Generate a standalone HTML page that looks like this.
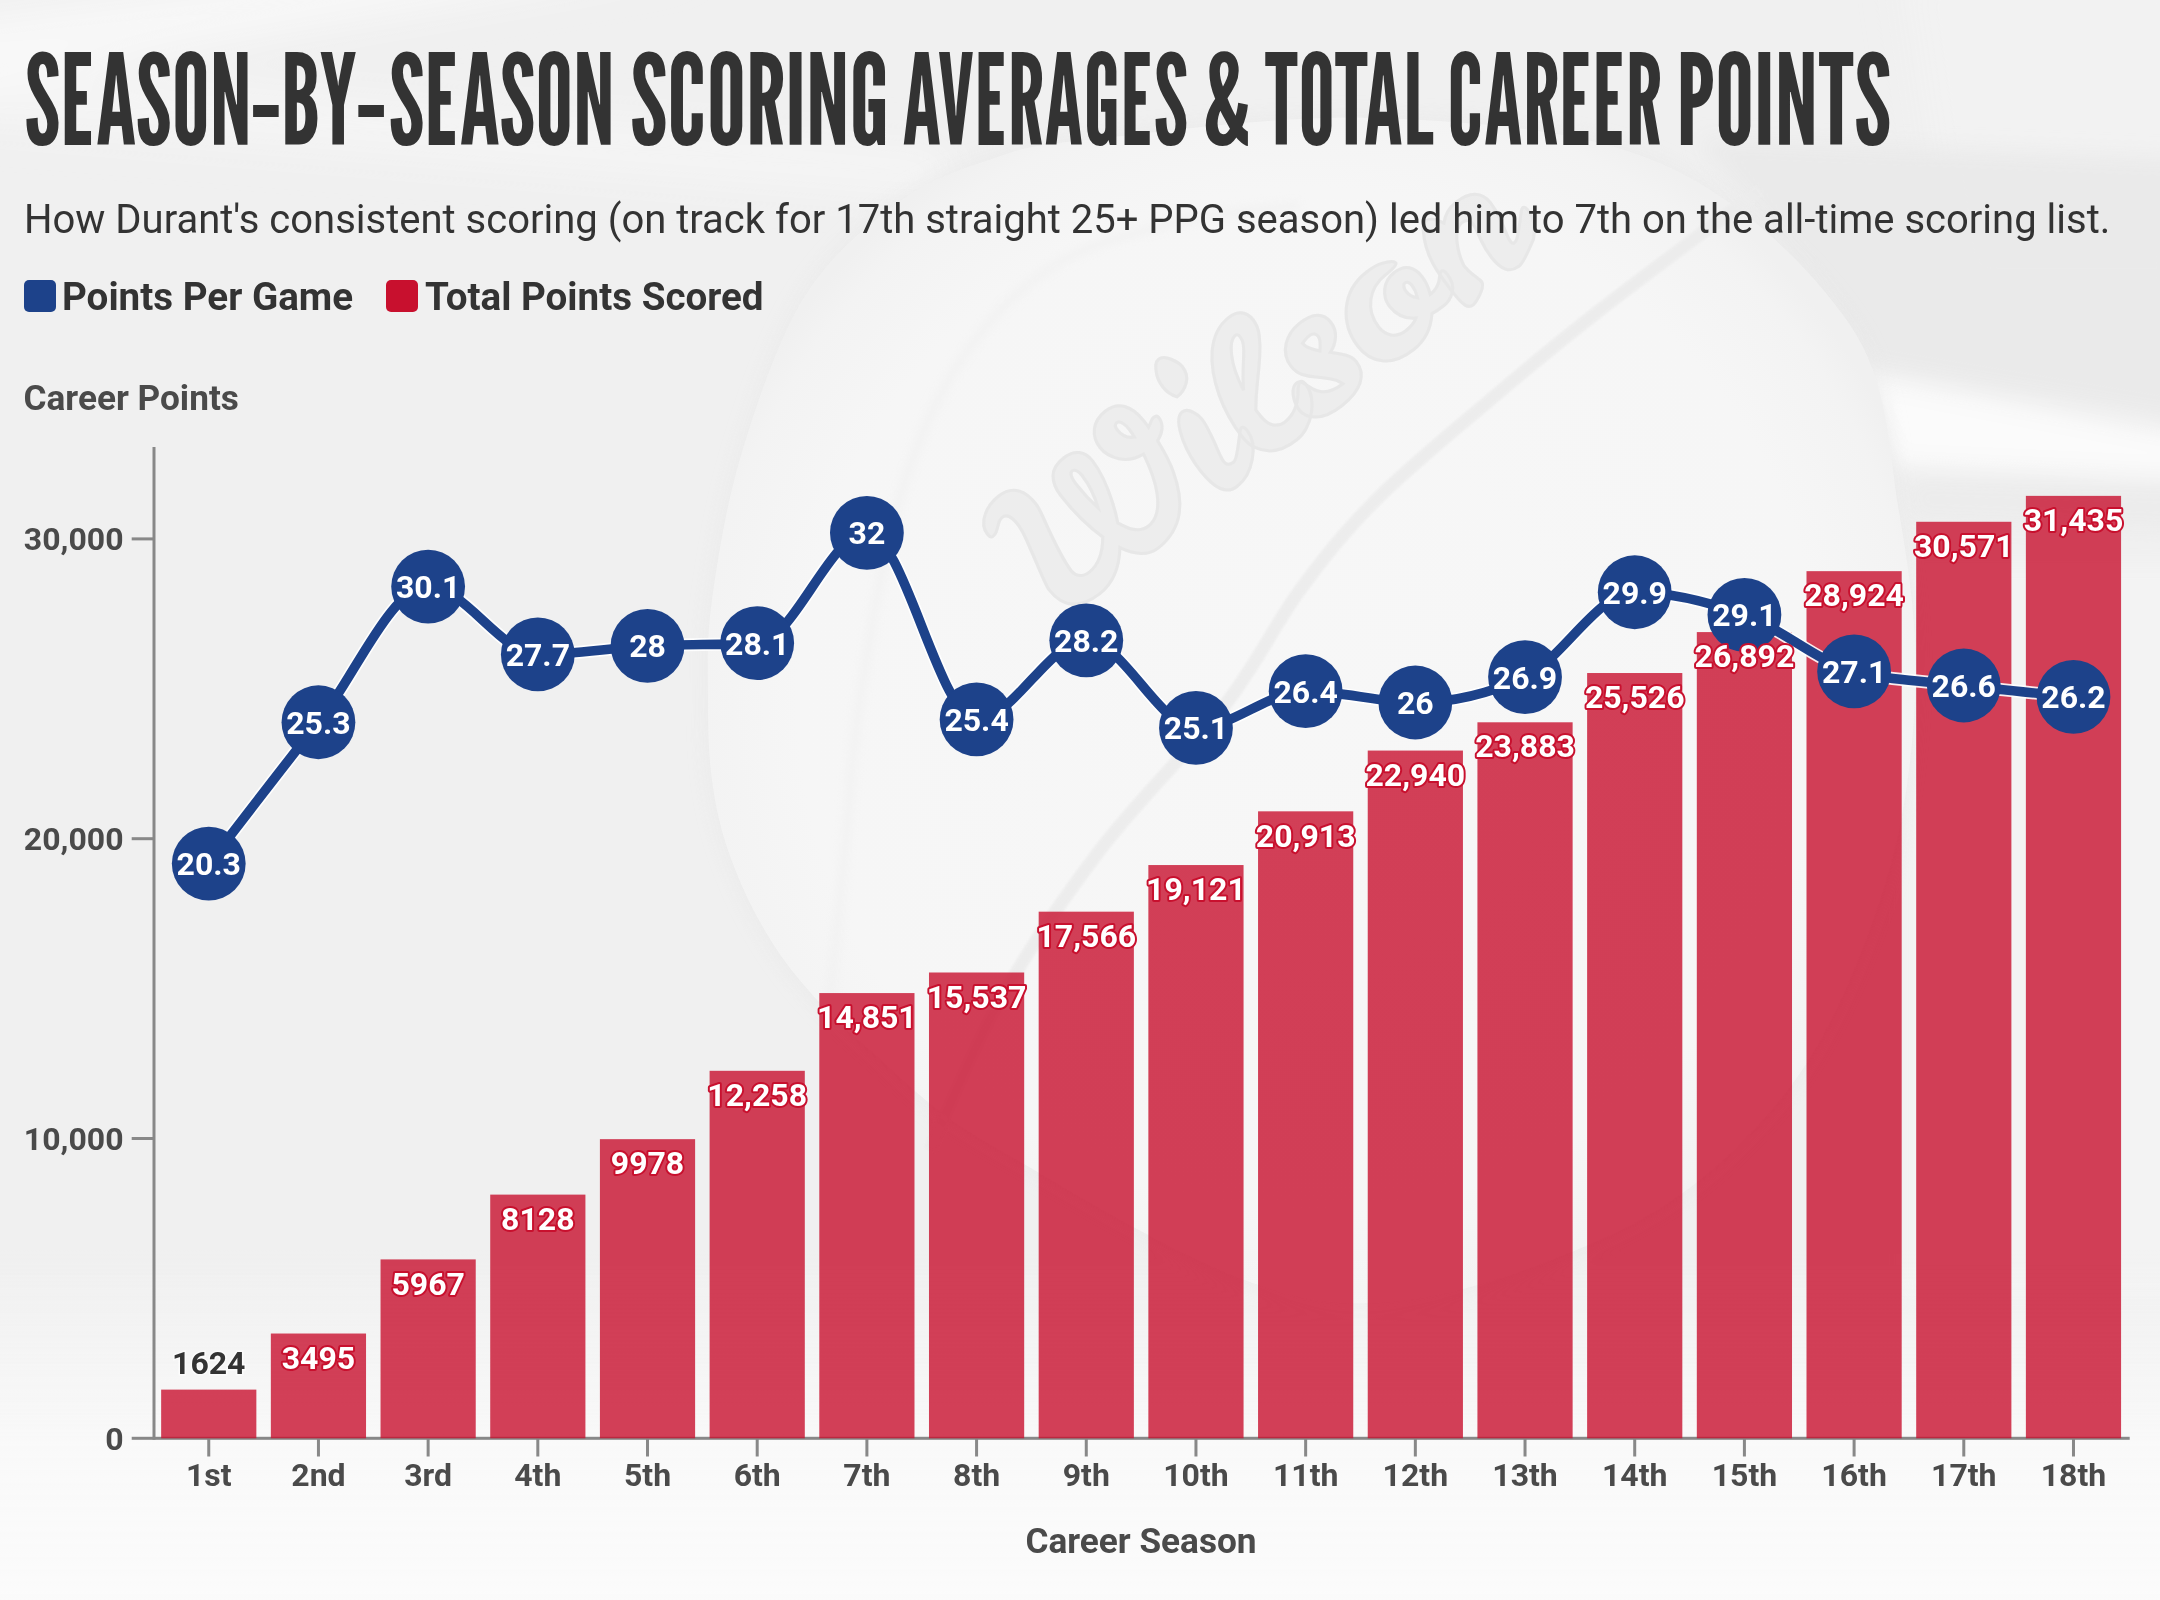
<!DOCTYPE html>
<html><head><meta charset="utf-8"><title>Season-by-season scoring averages &amp; total career points</title>
<style>
html,body{margin:0;padding:0;background:#ececec;}
body{width:2160px;height:1600px;overflow:hidden;position:relative;}
svg{display:block;position:absolute;left:0;top:0;}
</style></head><body>
<svg width="2160" height="1600" viewBox="0 0 2160 1600" font-family="Roboto, 'Liberation Sans', Arial, sans-serif">
<defs>
<radialGradient id="ballg" cx="1310" cy="700" r="640" gradientUnits="userSpaceOnUse">
<stop offset="0" stop-color="#f7f7f7"/><stop offset="0.8" stop-color="#f6f6f6"/><stop offset="0.95" stop-color="#f3f3f3"/><stop offset="1" stop-color="#f0f0f0"/>
</radialGradient>
<linearGradient id="bottom" x1="0" y1="1250" x2="0" y2="1600" gradientUnits="userSpaceOnUse">
<stop offset="0" stop-color="#f9f9f9" stop-opacity="0"/><stop offset="0.55" stop-color="#f9f9f9" stop-opacity="0.95"/><stop offset="1" stop-color="#fbfbfb"/>
</linearGradient>
<filter id="blur20" x="-20%" y="-50%" width="140%" height="200%"><feGaussianBlur stdDeviation="20"/></filter>
<filter id="blur10" x="-20%" y="-50%" width="140%" height="200%"><feGaussianBlur stdDeviation="10"/></filter>
<filter id="blur4" x="-10%" y="-10%" width="120%" height="120%"><feGaussianBlur stdDeviation="4"/></filter>
<filter id="blur2" x="-10%" y="-10%" width="120%" height="120%"><feGaussianBlur stdDeviation="2"/></filter>
<filter id="blur1" x="-10%" y="-10%" width="120%" height="120%"><feGaussianBlur stdDeviation="1"/></filter>
</defs>
<rect x="0" y="0" width="2160" height="1600" fill="#f0f0f0"/>
<g filter="url(#blur20)">
<path d="M-50,20 L420,-40 L700,-40 L-50,90 Z" fill="#fafafa" opacity="0.8"/>
<path d="M-50,60 L950,150 L950,200 L-50,120 Z" fill="#f8f8f8" opacity="0.6"/>
<path d="M1900,-40 L2200,-40 L2200,300 L1950,300 Z" fill="#f3f3f3" opacity="0.8"/>
</g>
<g filter="url(#blur10)">
<path d="M1700,140 L2200,160 L2200,420 L1870,365 L1790,250 Z" fill="#e9e9e9" opacity="0.85"/>
<path d="M1855,374 L2200,440 L2200,478 L1895,464 Z" fill="#fbfbfb" opacity="0.95"/>
<path d="M1905,478 L2200,488 L2200,530 L1912,520 Z" fill="#ebebeb" opacity="0.8"/>
<path d="M1900,560 L2200,560 L2200,1300 L1900,1300 Z" fill="#f3f3f3" opacity="0.9"/>
</g>
<path d="M708.0,700.0C708.0,730.0,708.7,755.0,712.0,780.0C715.3,805.0,720.0,826.3,728.0,850.0C736.0,873.7,747.5,899.7,760.0,922.0C772.5,944.3,784.7,962.7,803.0,984.0C821.3,1005.3,837.2,1022.3,870.0,1050.0C902.8,1077.7,925.7,1108.3,1000.0,1150.0C1074.3,1191.7,1216.0,1285.0,1316.0,1300.0C1416.0,1315.0,1522.7,1273.3,1600.0,1240.0C1677.3,1206.7,1733.3,1156.7,1780.0,1100.0C1826.7,1043.3,1857.5,966.7,1880.0,900.0C1902.5,833.3,1911.8,764.7,1915.0,700.0C1918.2,635.3,1909.8,574.5,1899.0,512.0C1888.2,449.5,1889.5,383.0,1850.0,325.0C1810.5,267.0,1740.3,198.5,1662.0,164.0C1583.7,129.5,1476.0,122.0,1380.0,118.0C1284.0,114.0,1150.7,133.2,1086.0,140.0C1021.3,146.8,1023.2,148.7,992.0,159.0C960.8,169.3,930.2,179.2,899.0,202.0C867.8,224.8,831.2,254.3,805.0,296.0C778.8,337.7,757.5,401.3,742.0,452.0C726.5,502.7,717.7,558.7,712.0,600.0C706.3,641.3,708.0,670.0,708.0,700.0Z" fill="#e6e6e6" opacity="0.6" filter="url(#blur10)"/>
<path d="M708.0,700.0C708.0,730.0,708.7,755.0,712.0,780.0C715.3,805.0,720.0,826.3,728.0,850.0C736.0,873.7,747.5,899.7,760.0,922.0C772.5,944.3,784.7,962.7,803.0,984.0C821.3,1005.3,837.2,1022.3,870.0,1050.0C902.8,1077.7,925.7,1108.3,1000.0,1150.0C1074.3,1191.7,1216.0,1285.0,1316.0,1300.0C1416.0,1315.0,1522.7,1273.3,1600.0,1240.0C1677.3,1206.7,1733.3,1156.7,1780.0,1100.0C1826.7,1043.3,1857.5,966.7,1880.0,900.0C1902.5,833.3,1911.8,764.7,1915.0,700.0C1918.2,635.3,1909.8,574.5,1899.0,512.0C1888.2,449.5,1889.5,383.0,1850.0,325.0C1810.5,267.0,1740.3,198.5,1662.0,164.0C1583.7,129.5,1476.0,122.0,1380.0,118.0C1284.0,114.0,1150.7,133.2,1086.0,140.0C1021.3,146.8,1023.2,148.7,992.0,159.0C960.8,169.3,930.2,179.2,899.0,202.0C867.8,224.8,831.2,254.3,805.0,296.0C778.8,337.7,757.5,401.3,742.0,452.0C726.5,502.7,717.7,558.7,712.0,600.0C706.3,641.3,708.0,670.0,708.0,700.0Z" fill="url(#ballg)"/>
<path d="M830.0,1000.0C832.5,975.0,840.0,900.0,845.0,850.0C850.0,800.0,851.0,758.3,860.0,700.0C869.0,641.7,882.2,556.7,899.0,500.0C915.8,443.3,935.0,399.2,961.0,360.0C987.0,320.8,1018.5,288.0,1055.0,265.0C1091.5,242.0,1139.2,232.0,1180.0,222.0C1220.8,212.0,1280.0,207.8,1300.0,205.0" fill="none" stroke="#efefef" stroke-width="10" opacity="0.5" filter="url(#blur4)"/>
<path d="M1760.0,190.0C1733.3,210.0,1645.0,275.0,1600.0,310.0C1555.0,345.0,1527.3,368.3,1490.0,400.0C1452.7,431.7,1407.7,468.3,1376.0,500.0C1344.3,531.7,1325.2,555.8,1300.0,590.0C1274.8,624.2,1258.3,661.7,1225.0,705.0C1191.7,748.3,1137.5,800.8,1100.0,850.0C1062.5,899.2,1028.3,950.0,1000.0,1000.0C971.7,1050.0,941.7,1125.0,930.0,1150.0" fill="none" stroke="#ececec" stroke-width="13" opacity="0.9" filter="url(#blur1)"/>
<text x="0" y="0" transform="translate(1258,385) rotate(-38)" font-family="'Leckerli One', Lobster, 'Liberation Sans', sans-serif" font-size="185" text-anchor="middle" dominant-baseline="central" textLength="610" lengthAdjust="spacingAndGlyphs" fill="#ebebeb" stroke="#e4e4e4" stroke-width="3" opacity="0.8">Wilson</text>
<rect x="0" y="1250" width="2160" height="350" fill="url(#bottom)"/>

<g font-family="'League Gothic', 'Liberation Sans Narrow', 'Liberation Sans', sans-serif" font-size="125" fill="#333333">
<text x="24.6" y="144.5" textLength="227.26" lengthAdjust="spacingAndGlyphs">SEASON</text>
<text x="246.84" y="144.5" textLength="38.28" lengthAdjust="spacingAndGlyphs">-</text>
<text x="281.11" y="144.5" textLength="76.3" lengthAdjust="spacingAndGlyphs">BY</text>
<text x="351.94" y="144.5" textLength="38.28" lengthAdjust="spacingAndGlyphs">-</text>
<text x="388.71" y="144.5" textLength="226.23" lengthAdjust="spacingAndGlyphs">SEASON</text>
<text x="630.14" y="144.5" textLength="259.33" lengthAdjust="spacingAndGlyphs">SCORING</text>
<text x="902.07" y="144.5" textLength="286.16" lengthAdjust="spacingAndGlyphs">AVERAGES</text>
<text x="1202.99" y="144.5" textLength="47.7" lengthAdjust="spacingAndGlyphs">&amp;</text>
<text x="1264.18" y="144.5" textLength="169.34" lengthAdjust="spacingAndGlyphs">TOTAL</text>
<text x="1447.15" y="144.5" textLength="214.78" lengthAdjust="spacingAndGlyphs">CAREER</text>
<text x="1676.42" y="144.5" textLength="214.86" lengthAdjust="spacingAndGlyphs">POINTS</text>
</g>
<text x="24" y="232.5" font-size="40" fill="#333333" textLength="2086.3" lengthAdjust="spacingAndGlyphs">How Durant's consistent scoring (on track for 17th straight 25+ PPG season) led him to 7th on the all-time scoring list.</text>
<rect x="24" y="280" width="32" height="32" rx="5" fill="#1d428a"/>
<text x="62" y="310" font-size="38.6" font-weight="700" fill="#333333" textLength="291.1" lengthAdjust="spacingAndGlyphs">Points Per Game</text>
<rect x="386" y="280" width="32" height="32" rx="5" fill="#c8102e"/>
<text x="425" y="310" font-size="38.6" font-weight="700" fill="#333333" textLength="338.6" lengthAdjust="spacingAndGlyphs">Total Points Scored</text>
<text x="23.5" y="410" font-size="35.2" font-weight="700" fill="#4a4a4a" textLength="215.4" lengthAdjust="spacingAndGlyphs">Career Points</text>
<g fill="#888888">
<rect x="152.5" y="447" width="3" height="992.7"/>
<rect x="131.7" y="1436.8" width="1998" height="3"/>
<rect x="131.7" y="1137.0" width="22" height="3"/>
<rect x="131.7" y="837.2" width="22" height="3"/>
<rect x="131.7" y="537.4" width="22" height="3"/>
<rect x="207.25" y="1439" width="3" height="17.5"/>
<rect x="316.94" y="1439" width="3" height="17.5"/>
<rect x="426.63" y="1439" width="3" height="17.5"/>
<rect x="536.32" y="1439" width="3" height="17.5"/>
<rect x="646.01" y="1439" width="3" height="17.5"/>
<rect x="755.70" y="1439" width="3" height="17.5"/>
<rect x="865.39" y="1439" width="3" height="17.5"/>
<rect x="975.08" y="1439" width="3" height="17.5"/>
<rect x="1084.77" y="1439" width="3" height="17.5"/>
<rect x="1194.46" y="1439" width="3" height="17.5"/>
<rect x="1304.15" y="1439" width="3" height="17.5"/>
<rect x="1413.84" y="1439" width="3" height="17.5"/>
<rect x="1523.53" y="1439" width="3" height="17.5"/>
<rect x="1633.22" y="1439" width="3" height="17.5"/>
<rect x="1742.91" y="1439" width="3" height="17.5"/>
<rect x="1852.60" y="1439" width="3" height="17.5"/>
<rect x="1962.29" y="1439" width="3" height="17.5"/>
<rect x="2071.98" y="1439" width="3" height="17.5"/>
</g>
<text x="123.5" y="1449.6" font-size="32" font-weight="700" fill="#4a4a4a" text-anchor="end">0</text>
<text x="123.5" y="1149.8" font-size="32" font-weight="700" fill="#4a4a4a" text-anchor="end">10,000</text>
<text x="123.5" y="850.0" font-size="32" font-weight="700" fill="#4a4a4a" text-anchor="end">20,000</text>
<text x="123.5" y="550.2" font-size="32" font-weight="700" fill="#4a4a4a" text-anchor="end">30,000</text>
<text x="208.75" y="1486" font-size="32" font-weight="700" fill="#4a4a4a" text-anchor="middle">1st</text>
<text x="318.44" y="1486" font-size="32" font-weight="700" fill="#4a4a4a" text-anchor="middle">2nd</text>
<text x="428.13" y="1486" font-size="32" font-weight="700" fill="#4a4a4a" text-anchor="middle">3rd</text>
<text x="537.82" y="1486" font-size="32" font-weight="700" fill="#4a4a4a" text-anchor="middle">4th</text>
<text x="647.51" y="1486" font-size="32" font-weight="700" fill="#4a4a4a" text-anchor="middle">5th</text>
<text x="757.20" y="1486" font-size="32" font-weight="700" fill="#4a4a4a" text-anchor="middle">6th</text>
<text x="866.89" y="1486" font-size="32" font-weight="700" fill="#4a4a4a" text-anchor="middle">7th</text>
<text x="976.58" y="1486" font-size="32" font-weight="700" fill="#4a4a4a" text-anchor="middle">8th</text>
<text x="1086.27" y="1486" font-size="32" font-weight="700" fill="#4a4a4a" text-anchor="middle">9th</text>
<text x="1195.96" y="1486" font-size="32" font-weight="700" fill="#4a4a4a" text-anchor="middle">10th</text>
<text x="1305.65" y="1486" font-size="32" font-weight="700" fill="#4a4a4a" text-anchor="middle">11th</text>
<text x="1415.34" y="1486" font-size="32" font-weight="700" fill="#4a4a4a" text-anchor="middle">12th</text>
<text x="1525.03" y="1486" font-size="32" font-weight="700" fill="#4a4a4a" text-anchor="middle">13th</text>
<text x="1634.72" y="1486" font-size="32" font-weight="700" fill="#4a4a4a" text-anchor="middle">14th</text>
<text x="1744.41" y="1486" font-size="32" font-weight="700" fill="#4a4a4a" text-anchor="middle">15th</text>
<text x="1854.10" y="1486" font-size="32" font-weight="700" fill="#4a4a4a" text-anchor="middle">16th</text>
<text x="1963.79" y="1486" font-size="32" font-weight="700" fill="#4a4a4a" text-anchor="middle">17th</text>
<text x="2073.48" y="1486" font-size="32" font-weight="700" fill="#4a4a4a" text-anchor="middle">18th</text>
<text x="1141" y="1553" font-size="35.2" font-weight="700" fill="#4a4a4a" text-anchor="middle" textLength="231.2" lengthAdjust="spacingAndGlyphs">Career Season</text>
<g fill="#c8102e" fill-opacity="0.8">
<rect x="161.15" y="1389.61" width="95.2" height="48.69"/>
<rect x="270.84" y="1333.52" width="95.2" height="104.78"/>
<rect x="380.53" y="1259.41" width="95.2" height="178.89"/>
<rect x="490.22" y="1194.62" width="95.2" height="243.68"/>
<rect x="599.91" y="1139.16" width="95.2" height="299.14"/>
<rect x="709.60" y="1070.81" width="95.2" height="367.49"/>
<rect x="819.29" y="993.07" width="95.2" height="445.23"/>
<rect x="928.98" y="972.50" width="95.2" height="465.80"/>
<rect x="1038.67" y="911.67" width="95.2" height="526.63"/>
<rect x="1148.36" y="865.05" width="95.2" height="573.25"/>
<rect x="1258.05" y="811.33" width="95.2" height="626.97"/>
<rect x="1367.74" y="750.56" width="95.2" height="687.74"/>
<rect x="1477.43" y="722.29" width="95.2" height="716.01"/>
<rect x="1587.12" y="673.03" width="95.2" height="765.27"/>
<rect x="1696.81" y="632.08" width="95.2" height="806.22"/>
<rect x="1806.50" y="571.16" width="95.2" height="867.14"/>
<rect x="1916.19" y="521.78" width="95.2" height="916.52"/>
<rect x="2025.88" y="495.88" width="95.2" height="942.42"/>
</g>
<path d="M208.75,863.62C245.31,816.03,281.88,768.44,318.44,722.27C355.00,676.09,391.57,586.57,428.13,586.57C464.69,586.57,501.26,654.42,537.82,654.42C574.38,654.42,610.95,647.82,647.51,645.94C684.07,644.06,720.64,645.00,757.20,643.11C793.76,641.23,830.33,532.86,866.89,532.86C903.45,532.86,940.02,719.44,976.58,719.44C1013.14,719.44,1049.71,640.29,1086.27,640.29C1122.83,640.29,1159.40,727.92,1195.96,727.92C1232.52,727.92,1269.09,691.17,1305.65,691.17C1342.21,691.17,1378.78,702.48,1415.34,702.48C1451.90,702.48,1488.47,694.00,1525.03,677.04C1561.59,660.08,1598.16,592.23,1634.72,592.23C1671.28,592.23,1707.85,601.65,1744.41,614.84C1780.97,628.04,1817.54,661.96,1854.10,671.38C1890.66,680.81,1927.23,681.28,1963.79,685.52C2000.35,689.76,2036.92,693.29,2073.48,696.83" fill="none" stroke="#ffffff" stroke-width="13" stroke-linejoin="round" stroke-opacity="0.9"/>
<path d="M208.75,863.62C245.31,816.03,281.88,768.44,318.44,722.27C355.00,676.09,391.57,586.57,428.13,586.57C464.69,586.57,501.26,654.42,537.82,654.42C574.38,654.42,610.95,647.82,647.51,645.94C684.07,644.06,720.64,645.00,757.20,643.11C793.76,641.23,830.33,532.86,866.89,532.86C903.45,532.86,940.02,719.44,976.58,719.44C1013.14,719.44,1049.71,640.29,1086.27,640.29C1122.83,640.29,1159.40,727.92,1195.96,727.92C1232.52,727.92,1269.09,691.17,1305.65,691.17C1342.21,691.17,1378.78,702.48,1415.34,702.48C1451.90,702.48,1488.47,694.00,1525.03,677.04C1561.59,660.08,1598.16,592.23,1634.72,592.23C1671.28,592.23,1707.85,601.65,1744.41,614.84C1780.97,628.04,1817.54,661.96,1854.10,671.38C1890.66,680.81,1927.23,681.28,1963.79,685.52C2000.35,689.76,2036.92,693.29,2073.48,696.83" fill="none" stroke="#1d428a" stroke-width="9.6" stroke-linejoin="round"/>
<g fill="#1d428a">
<circle cx="208.75" cy="863.62" r="36.9"/>
<circle cx="318.44" cy="722.27" r="36.9"/>
<circle cx="428.13" cy="586.57" r="36.9"/>
<circle cx="537.82" cy="654.42" r="36.9"/>
<circle cx="647.51" cy="645.94" r="36.9"/>
<circle cx="757.20" cy="643.11" r="36.9"/>
<circle cx="866.89" cy="532.86" r="36.9"/>
<circle cx="976.58" cy="719.44" r="36.9"/>
<circle cx="1086.27" cy="640.29" r="36.9"/>
<circle cx="1195.96" cy="727.92" r="36.9"/>
<circle cx="1305.65" cy="691.17" r="36.9"/>
<circle cx="1415.34" cy="702.48" r="36.9"/>
<circle cx="1525.03" cy="677.04" r="36.9"/>
<circle cx="1634.72" cy="592.23" r="36.9"/>
<circle cx="1744.41" cy="614.84" r="36.9"/>
<circle cx="1854.10" cy="671.38" r="36.9"/>
<circle cx="1963.79" cy="685.52" r="36.9"/>
<circle cx="2073.48" cy="696.83" r="36.9"/>
</g>
<g font-size="32" font-weight="700" fill="#ffffff" text-anchor="middle">
<text x="208.75" y="875.12">20.3</text>
<text x="318.44" y="733.77">25.3</text>
<text x="428.13" y="598.07">30.1</text>
<text x="537.82" y="665.92">27.7</text>
<text x="647.51" y="657.44">28</text>
<text x="757.20" y="654.61">28.1</text>
<text x="866.89" y="544.36">32</text>
<text x="976.58" y="730.94">25.4</text>
<text x="1086.27" y="651.79">28.2</text>
<text x="1195.96" y="739.42">25.1</text>
<text x="1305.65" y="702.67">26.4</text>
<text x="1415.34" y="713.98">26</text>
<text x="1525.03" y="688.54">26.9</text>
<text x="1634.72" y="603.73">29.9</text>
<text x="1744.41" y="626.34">29.1</text>
<text x="1854.10" y="682.88">27.1</text>
<text x="1963.79" y="697.02">26.6</text>
<text x="2073.48" y="708.33">26.2</text>
</g>
<g font-size="32" font-weight="700" text-anchor="middle">
<text x="208.75" y="1373.91" fill="#333333" stroke="#ffffff" stroke-width="3" paint-order="stroke" stroke-opacity="0.6">1624</text>
<text x="318.44" y="1368.72" fill="#ffffff" stroke="#c8102e" stroke-width="4" paint-order="stroke" stroke-linejoin="round">3495</text>
<text x="428.13" y="1294.61" fill="#ffffff" stroke="#c8102e" stroke-width="4" paint-order="stroke" stroke-linejoin="round">5967</text>
<text x="537.82" y="1229.82" fill="#ffffff" stroke="#c8102e" stroke-width="4" paint-order="stroke" stroke-linejoin="round">8128</text>
<text x="647.51" y="1174.36" fill="#ffffff" stroke="#c8102e" stroke-width="4" paint-order="stroke" stroke-linejoin="round">9978</text>
<text x="757.20" y="1106.01" fill="#ffffff" stroke="#c8102e" stroke-width="4" paint-order="stroke" stroke-linejoin="round">12,258</text>
<text x="866.89" y="1028.27" fill="#ffffff" stroke="#c8102e" stroke-width="4" paint-order="stroke" stroke-linejoin="round">14,851</text>
<text x="976.58" y="1007.70" fill="#ffffff" stroke="#c8102e" stroke-width="4" paint-order="stroke" stroke-linejoin="round">15,537</text>
<text x="1086.27" y="946.87" fill="#ffffff" stroke="#c8102e" stroke-width="4" paint-order="stroke" stroke-linejoin="round">17,566</text>
<text x="1195.96" y="900.25" fill="#ffffff" stroke="#c8102e" stroke-width="4" paint-order="stroke" stroke-linejoin="round">19,121</text>
<text x="1305.65" y="846.53" fill="#ffffff" stroke="#c8102e" stroke-width="4" paint-order="stroke" stroke-linejoin="round">20,913</text>
<text x="1415.34" y="785.76" fill="#ffffff" stroke="#c8102e" stroke-width="4" paint-order="stroke" stroke-linejoin="round">22,940</text>
<text x="1525.03" y="757.49" fill="#ffffff" stroke="#c8102e" stroke-width="4" paint-order="stroke" stroke-linejoin="round">23,883</text>
<text x="1634.72" y="708.23" fill="#ffffff" stroke="#c8102e" stroke-width="4" paint-order="stroke" stroke-linejoin="round">25,526</text>
<text x="1744.41" y="667.28" fill="#ffffff" stroke="#c8102e" stroke-width="4" paint-order="stroke" stroke-linejoin="round">26,892</text>
<text x="1854.10" y="606.36" fill="#ffffff" stroke="#c8102e" stroke-width="4" paint-order="stroke" stroke-linejoin="round">28,924</text>
<text x="1963.79" y="556.98" fill="#ffffff" stroke="#c8102e" stroke-width="4" paint-order="stroke" stroke-linejoin="round">30,571</text>
<text x="2073.48" y="531.08" fill="#ffffff" stroke="#c8102e" stroke-width="4" paint-order="stroke" stroke-linejoin="round">31,435</text>
</g>
</svg></body></html>
